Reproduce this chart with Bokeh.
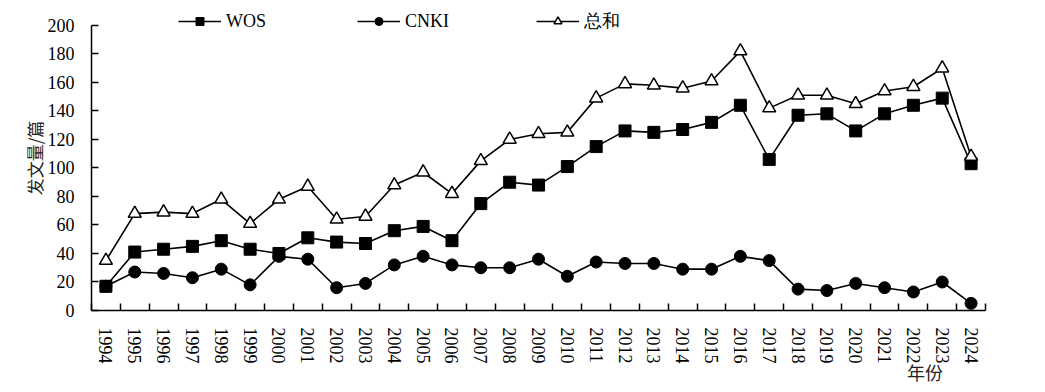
from bokeh.plotting import figure
from bokeh.models import Range1d, FixedTicker, Legend, LegendItem, LinearAxis
from bokeh.embed import file_html
from bokeh.resources import INLINE

years = list(range(1994, 2025))
wos = [17, 41, 43, 45, 49, 43, 40, 51, 48, 47, 56, 59, 49, 75, 90, 88, 101, 115, 126, 125,
       127, 132, 144, 106, 137, 138, 126, 138, 144, 149, 103]
cnki = [17, 27, 26, 23, 29, 18, 38, 36, 16, 19, 32, 38, 32, 30, 30, 36, 24, 34, 33, 33,
        29, 29, 38, 35, 15, 14, 19, 16, 13, 20, 5]
total = [35, 68, 69, 68, 78, 61, 78, 87, 64, 66, 88, 97, 82, 105, 120, 124, 125, 149, 159, 158,
         156, 161, 182, 142, 151, 151, 145, 154, 157, 170, 108]
y_ticks = [0, 20, 40, 60, 80, 100, 120, 140, 160, 180, 200]
series_names = ["WOS", "CNKI", "总和"]
x_title = "年份"
y_title = "发文量/篇"

SERIF = "Liberation Serif"
CJK = "Noto Sans CJK SC"

# frame extends ~20px above the 200 level so the legend sits inside it
p = figure(width=1037, height=390, output_backend="svg", toolbar_location=None,
           x_range=Range1d(years[0] - 0.5, years[-1] + 0.5), y_range=Range1d(0, 214),
           min_border_left=91, min_border_right=52, min_border_top=5, min_border_bottom=80)
p.outline_line_color = None
p.background_fill_color = None
p.xgrid.visible = False
p.ygrid.visible = False

boundaries = [y - 0.5 for y in years] + [years[-1] + 0.5]
p.xaxis.ticker = FixedTicker(ticks=years, minor_ticks=boundaries)
p.xaxis.major_tick_line_color = None
p.xaxis.major_tick_out = 0
p.xaxis.major_tick_in = 0
p.xaxis.minor_tick_in = 7
p.xaxis.minor_tick_out = 0
p.xaxis.minor_tick_line_color = "black"
p.xaxis.minor_tick_line_width = 1.5
p.xaxis.major_label_orientation = "vertical"
p.xaxis.major_label_standoff = 17

p.yaxis.ticker = FixedTicker(ticks=y_ticks)
p.yaxis.bounds = (y_ticks[0], y_ticks[-1])
p.yaxis.minor_tick_line_color = None
p.yaxis.major_tick_in = 7
p.yaxis.major_tick_out = 0
p.yaxis.major_tick_line_width = 1.5
p.yaxis.major_label_standoff = 17
p.yaxis.axis_label = y_title
p.yaxis.axis_label_text_font = CJK
p.yaxis.axis_label_text_font_size = "17px"
p.yaxis.axis_label_text_font_style = "normal"
p.yaxis.axis_label_text_color = "#222222"
p.yaxis.axis_label_standoff = -2

for ax in (p.xaxis, p.yaxis):
    ax.axis_line_color = "black"
    ax.axis_line_width = 1.5
    ax.major_label_text_font = SERIF
    ax.major_label_text_font_size = "18px"
    ax.major_label_text_color = "black"

# second, line-less bottom axis carrying the x title at the right
title_pos = 2022.4
xt = LinearAxis(ticker=FixedTicker(ticks=[title_pos]),
                major_label_overrides={title_pos: x_title},
                axis_line_color=None, major_tick_line_color=None, minor_tick_line_color=None,
                major_tick_out=0, major_tick_in=0, minor_tick_out=0, minor_tick_in=0,
                major_label_standoff=-8, major_label_text_font=CJK,
                major_label_text_font_size="18px", major_label_text_color="#222222")
p.add_layout(xt, "below")

lw = 1.6
l1 = p.line(years, wos, line_color="black", line_width=lw)
s1 = p.scatter(years, wos, marker="square", size=12, fill_color="black", line_color="black")
l2 = p.line(years, cnki, line_color="black", line_width=lw)
s2 = p.scatter(years, cnki, marker="circle", size=12, fill_color="black", line_color="black")
l3 = p.line(years, total, line_color="black", line_width=lw)
s3 = p.scatter(years, total, marker="triangle", size=13, fill_color="white", line_color="black",
               line_width=1.5)

legend = Legend(items=[LegendItem(label=series_names[0], renderers=[l1, s1]),
                       LegendItem(label=series_names[1], renderers=[l2, s2]),
                       LegendItem(label=series_names[2], renderers=[l3, s3])],
                orientation="horizontal", location=(87, 277))
legend.glyph_width = 43
legend.glyph_height = 20
legend.label_standoff = 5
legend.label_width = 128
legend.spacing = 3
legend.padding = 0
legend.margin = 0
legend.border_line_color = None
legend.background_fill_color = None
legend.label_text_font = SERIF
legend.label_text_font_size = "18px"
legend.label_text_color = "black"
p.add_layout(legend)

open("out.html", "w").write(file_html(p, INLINE))
